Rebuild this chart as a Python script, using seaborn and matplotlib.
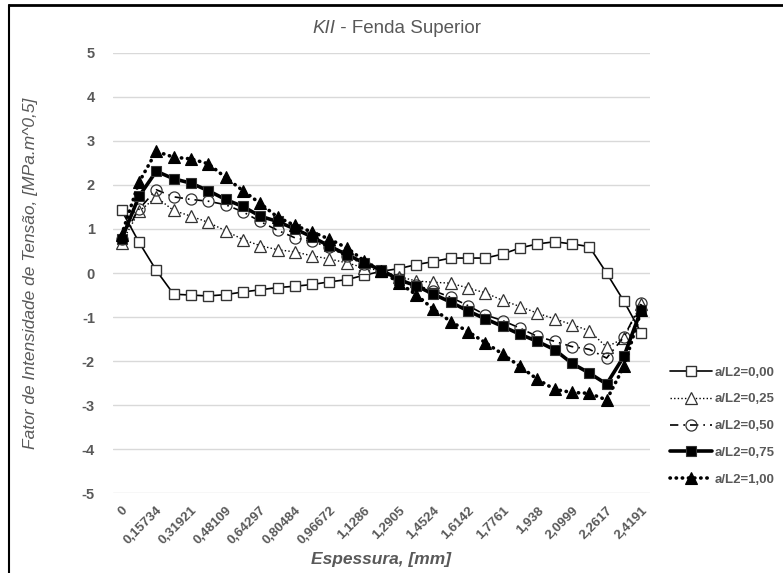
import matplotlib
matplotlib.use("Agg")
import matplotlib.pyplot as plt
import seaborn as sns
import pandas as pd

# Thickness positions (mm) along the crack front
espessura = [
    "0", "0,07867", "0,15734", "0,23828", "0,31921", "0,40015", "0,48109",
    "0,56203", "0,64297", "0,7239", "0,80484", "0,88578", "0,96672", "1,0477",
    "1,1286", "1,2095", "1,2905", "1,3714", "1,4524", "1,5333", "1,6142",
    "1,6952", "1,7761", "1,857", "1,938", "2,0189", "2,0999", "2,1808",
    "2,2617", "2,3404", "2,4191",
]

# KII values [MPa.m^0,5] for each a/L2 ratio
k_000 = [1.42, 0.70, 0.06, -0.48, -0.50, -0.52, -0.49, -0.43, -0.38, -0.33,
         -0.30, -0.26, -0.20, -0.15, -0.05, 0.04, 0.10, 0.19, 0.26, 0.34,
         0.34, 0.34, 0.43, 0.57, 0.66, 0.71, 0.66, 0.60, 0.00, -0.64, -1.36]
k_025 = [0.69, 1.40, 1.72, 1.42, 1.29, 1.15, 0.96, 0.76, 0.62, 0.53,
         0.48, 0.39, 0.32, 0.23, 0.12, 0.05, -0.08, -0.18, -0.21, -0.23,
         -0.34, -0.45, -0.62, -0.76, -0.91, -1.04, -1.17, -1.31, -1.68, -1.48, -0.70]
k_050 = [0.78, 1.45, 1.89, 1.73, 1.67, 1.63, 1.55, 1.39, 1.17, 0.97,
         0.80, 0.72, 0.58, 0.38, 0.20, 0.05, -0.13, -0.28, -0.40, -0.55,
         -0.74, -0.95, -1.08, -1.25, -1.44, -1.55, -1.67, -1.73, -1.93, -1.45, -0.68]
k_075 = [0.77, 1.74, 2.31, 2.14, 2.04, 1.87, 1.67, 1.51, 1.29, 1.17,
         1.00, 0.82, 0.61, 0.42, 0.23, 0.07, -0.15, -0.29, -0.48, -0.66,
         -0.86, -1.04, -1.21, -1.39, -1.55, -1.74, -2.05, -2.27, -2.52, -1.89, -0.83]
k_100 = [0.87, 2.06, 2.76, 2.63, 2.59, 2.48, 2.17, 1.87, 1.58, 1.27,
         1.08, 0.93, 0.77, 0.57, 0.28, 0.05, -0.22, -0.49, -0.82, -1.10,
         -1.33, -1.58, -1.84, -2.12, -2.41, -2.64, -2.71, -2.73, -2.88, -2.12, -0.85]

series_labels = ["a/L2=0,00", "a/L2=0,25", "a/L2=0,50", "a/L2=0,75", "a/L2=1,00"]
series_values = [k_000, k_025, k_050, k_075, k_100]

sns.set_theme(style="white")
plt.rcParams["font.family"] = ["Liberation Sans", "DejaVu Sans"]

GRAY = "#595959"

fig = plt.figure(figsize=(7.83, 5.73), dpi=100)
ax = fig.add_axes([0.1443, 0.139, 0.6857, 0.769])

pos = list(range(len(espessura)))

styles = [
    dict(color="black", lw=1.2, linestyle="-", marker="s", markersize=7,
         markerfacecolor="white", markeredgecolor="#333333", markeredgewidth=1.0),
    dict(color="black", lw=1.0, linestyle=(0, (1, 1.6)), marker="^", markersize=8,
         markerfacecolor="white", markeredgecolor="#333333", markeredgewidth=0.9),
    dict(color="black", lw=1.2, linestyle=(0, (5, 3, 1, 3)), marker="o", markersize=8,
         markerfacecolor="none", markeredgecolor="#333333", markeredgewidth=0.9),
    dict(color="black", lw=2.6, linestyle="-", marker="s", markersize=7,
         markerfacecolor="black", markeredgecolor="#333333", markeredgewidth=0.8),
    dict(color="black", lw=2.6, linestyle=(0, (0.1, 1.6)), marker="^", markersize=8,
         markerfacecolor="black", markeredgecolor="black", markeredgewidth=0.8,
         dash_capstyle="round"),
]

for lab, vals, st in zip(series_labels, series_values, styles):
    df = pd.DataFrame({"pos": pos, "k": vals})
    sns.lineplot(data=df, x="pos", y="k", ax=ax, label=lab, **st)

ax.set_xlim(-0.5, len(espessura) - 0.5)
ax.set_ylim(-5, 5)
ax.set_yticks(range(-5, 6))
ax.set_yticklabels([str(v) for v in range(-5, 6)])
ax.set_xticks(pos[::2])
ax.set_xticklabels(espessura[::2], rotation=45, ha="right", rotation_mode="anchor")

ax.yaxis.grid(True, color="#d9d9d9", lw=1.0)
ax.xaxis.grid(False)
for s in ax.spines.values():
    s.set_visible(False)
ax.set_axisbelow(True)

ax.tick_params(axis="y", length=0, pad=13, labelsize=10.5, labelcolor=GRAY)
ax.tick_params(axis="x", length=0, pad=8, labelsize=9.5, labelcolor=GRAY)
for t in ax.get_xticklabels() + ax.get_yticklabels():
    t.set_fontweight("bold")

ax.set_xlabel("Espessura, [mm]", fontsize=12.5, fontweight="bold", style="italic",
              color=GRAY)
ax.xaxis.set_label_coords(0.5, -0.133)
ax.set_ylabel("Fator de Intensidade de Tensão, [MPa.m^0,5]", fontsize=12.5,
              style="italic", color=GRAY)
ax.yaxis.set_label_coords(-0.14, 0.5)

# Title with italic KII
TX = 335 / 783
fig.text(TX, 0.951, " - Fenda Superior", ha="left", va="center",
         fontsize=13.5, color=GRAY)
fig.text(TX, 0.951, "KII", ha="right", va="center", fontsize=13.5,
         color=GRAY, style="italic")

leg = ax.legend(loc="center left", bbox_to_anchor=(670 / 783, 0.2565),
                bbox_transform=fig.transFigure, frameon=False, borderpad=0,
                borderaxespad=0, handlelength=3.2, handletextpad=0.2,
                labelspacing=1.1, fontsize=9.5)
for t in leg.get_texts():
    t.set_color(GRAY)
    t.set_fontweight("bold")

# Frame lines along the top and left edges
fig.add_artist(plt.Line2D([9 / 783, 1], [1 - 5 / 573, 1 - 5 / 573],
                          transform=fig.transFigure, color="black", lw=2))
fig.add_artist(plt.Line2D([9 / 783, 9 / 783], [0, 1 - 5 / 573],
                          transform=fig.transFigure, color="black", lw=1.5))

fig.savefig("out.png", dpi=100)
